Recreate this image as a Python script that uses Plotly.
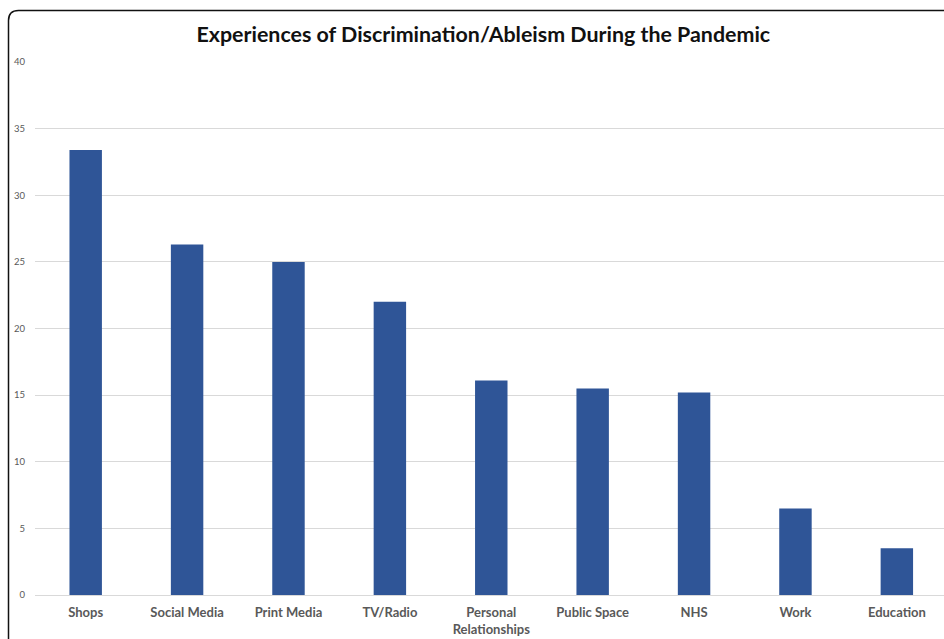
import plotly.graph_objects as go

categories = ["Shops", "Social Media", "Print Media", "TV/Radio", "Personal<br>Relationships",
              "Public Space", "NHS", "Work", "Education"]
values = [33.4, 26.3, 25.0, 22.0, 16.1, 15.5, 15.2, 6.5, 3.5]
y_ticks = [0, 5, 10, 15, 20, 25, 30, 35, 40]

W, H = 944, 639
ML, MR, MT, MB = 35, 0, 62, 44
pw, ph = W - ML - MR, H - MT - MB

def px_x(x):
    return (x - ML) / pw

def px_y(y):
    return (H - MB - y) / ph

fig = go.Figure(go.Bar(
    x=categories, y=values, marker=dict(color="#2F5597", line=dict(width=0)),
    width=0.32,
))

# rounded border (top-left corner)
x0, yt, r = px_x(8.5), px_y(10.5), 10
path = (f"M {x0},{px_y(H + 20)} L {x0},{px_y(10.5 + r)} "
        f"Q {x0},{yt} {px_x(8.5 + r)},{yt} L {px_x(W + 20)},{yt}")
fig.add_shape(type="path", path=path, xref="paper", yref="paper",
              line=dict(color="#111111", width=1.5))

fig.update_layout(
    width=W, height=H,
    margin=dict(l=ML, r=MR, t=MT, b=MB),
    paper_bgcolor="white", plot_bgcolor="white",
    title=dict(text="<b>Experiences of Discrimination/Ableism During the Pandemic</b>",
               x=0.512, xanchor="center", y=1 - 35 / H, yanchor="middle",
               font=dict(family="Lato", size=21.4, color="#111111")),
    showlegend=False,
    bargap=0.68,
)
fig.update_xaxes(
    range=[-0.5, 8.465], showgrid=False, showline=True, linecolor="#D9D9D9", linewidth=1,
    tickfont=dict(family="Lato", size=13, color="#595959", weight="bold"),
    ticks="", ticklabelstandoff=5,
)
fig.update_yaxes(
    range=[0, 40], tickvals=y_ticks, showgrid=True, gridcolor="#D9D9D9", gridwidth=1,
    zeroline=False, showline=False,
    tickfont=dict(family="Lato", size=9.5, color="#595959"),
    ticks="", ticklabelstandoff=9,
)
fig.write_html("out.html")
